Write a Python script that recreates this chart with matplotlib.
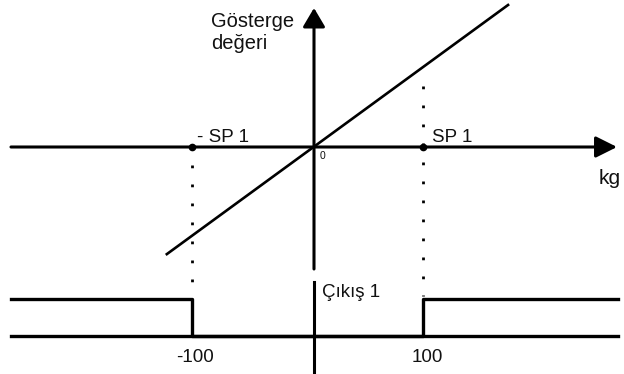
import matplotlib.pyplot as plt

plt.rcParams['font.family'] = ['Liberation Sans', 'DejaVu Sans']

# diagram units: x in kg, upper part in "gösterge" units, lower part 0/1 output
sp_left, sp_right = -112, 100
x_min, x_max = -278, 279
line_x = [-136, 179]
line_y = [-99, 131]
step_x = [x_min, sp_left, sp_left, sp_right, sp_right, x_max]
step_y = [1, 1, 0, 0, 1, 1]
dots_left = [-16.5, -133]
dots_right = [56, -137]
tick_labels = ["-100", "100"]

px = 1.09  # pixels per unit
fig = plt.figure(figsize=(6.24, 3.74), dpi=100)

# upper plot (pixels 0..280 from top)
ax = fig.add_axes([0, 94/374, 1, 280/374])
ax.set_xlim(-314/px, 310/px)
ax.set_ylim(-133/px, 147/px)
ax.axis('off')

ax.annotate('', xy=(x_max - 1, 0), xytext=(x_min, 0),
            arrowprops=dict(arrowstyle='-|>,head_length=1.3,head_width=0.65',
                            lw=2.2, color='black', mutation_scale=10,
                            shrinkA=0, shrinkB=0))
ax.annotate('', xy=(0, 139/px), xytext=(0, -122/px),
            arrowprops=dict(arrowstyle='-|>,head_length=1.15,head_width=0.68',
                            lw=2.2, color='black', mutation_scale=10,
                            shrinkA=0, shrinkB=0))
ax.plot(line_x, line_y, color='black', lw=1.9, solid_capstyle='butt')
ax.plot([sp_left, sp_right], [0, 0], 'o', color='black', ms=4.5)
ax.plot([sp_left, sp_left], dots_left, color='black', lw=2,
        ls=(0, (1, 5.84)), dash_capstyle='butt', clip_on=False)
ax.plot([sp_right, sp_right], dots_right, color='black', lw=2,
        ls=(0, (1, 5.84)), dash_capstyle='butt', clip_on=False)

fs = 13.5
ax.text(-94.5, 110, "Gösterge", fontsize=14.5, va='baseline', color='#111111')
ax.text(-94.5, 90, "değeri", fontsize=14.5, va='baseline', color='#111111')
ax.text(-107, 4.6, "- SP 1", fontsize=fs, va='baseline', color='#111111')
ax.text(108, 4.6, "SP 1", fontsize=fs, va='baseline', color='#111111')
ax.text(5.5, -8.3, "0", fontsize=7.5, va='center', color='#111111')
ax.text(261, -34, "kg", fontsize=15, va='baseline', color='#111111')

# lower plot (pixels 280..374 from top)
ax2 = fig.add_axes([0, 0, 1, 94/374])
ax2.set_xlim(-314/px, 310/px)
ax2.set_ylim(-38/37, 56/37)
ax2.axis('off')
ax2.plot([x_min, x_max], [0, 0], color='black', lw=2.4)
ax2.plot(step_x, step_y, color='black', lw=2.4)
ax2.plot([0, 0], [54/37, -38/37], color='black', lw=2.2)
ax2.text(7, 1.05, "Çıkış 1", fontsize=fs, va='baseline', color='#111111')
ax2.text(sp_left + 3, -0.70, tick_labels[0], fontsize=fs, ha='center',
         va='baseline', color='#111111')
ax2.text(sp_right + 4, -0.70, tick_labels[1], fontsize=fs, ha='center',
         va='baseline', color='#111111')

fig.savefig("out.png", dpi=100)
